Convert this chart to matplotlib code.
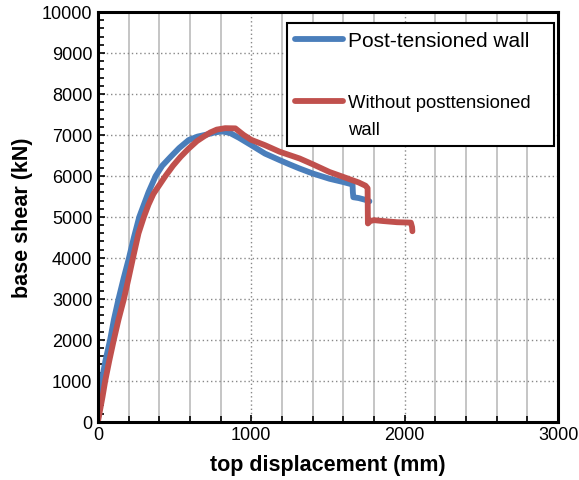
import matplotlib.pyplot as plt
from matplotlib.ticker import MultipleLocator

plt.rcParams['font.family'] = ['Liberation Sans', 'DejaVu Sans']

# -------------------------------
# data (mm, kN)
# -------------------------------
pt_disp = [0, 8, 25, 50, 80, 105, 135, 168, 203, 235, 270, 300, 330, 377, 420,
           474, 530, 592, 650, 710, 760, 810, 860, 920, 1000, 1089, 1185, 1250,
           1315, 1400, 1510, 1600, 1660, 1662, 1665, 1700, 1740, 1770]
pt_shear = [0, 500, 1000, 1500, 2000, 2500, 3000, 3500, 4000, 4500, 5000, 5300,
            5600, 6000, 6250, 6465, 6680, 6875, 6960, 7010, 7060, 7085, 7050,
            6930, 6750, 6545, 6385, 6280, 6180, 6060, 5930, 5850, 5790, 5600,
            5480, 5460, 5420, 5380]

npt_disp = [0, 8, 15, 30, 48, 75, 104, 135, 170, 200, 229, 265, 300, 330, 362,
            441, 490, 539, 590, 646, 690, 733, 775, 830, 896, 950, 1000, 1089,
            1185, 1315, 1400, 1510, 1600, 1700, 1745, 1758, 1760, 1775, 1800,
            1855, 1950, 2040, 2048, 2050]
npt_shear = [0, 150, 300, 600, 1000, 1500, 2000, 2500, 3000, 3500, 4000, 4600,
             5000, 5300, 5560, 6000, 6250, 6465, 6660, 6850, 6960, 7060, 7130,
             7165, 7160, 7000, 6880, 6750, 6590, 6425, 6285, 6095, 5975, 5840,
             5760, 5700, 4840, 4900, 4920, 4900, 4870, 4860, 4750, 4650]

labels = ["Post-tensioned wall", "Without posttensioned\nwall"]
colors = ["#4a7ebb", "#c0504d"]

# -------------------------------
# plot
# -------------------------------
fig = plt.figure(figsize=(5.79, 4.81), dpi=100)
ax = fig.add_axes([0.169, 0.121, 0.795, 0.852])

l1, = ax.plot(pt_disp, pt_shear, color=colors[0], lw=4.2, solid_capstyle='round',
              solid_joinstyle='round')
l2, = ax.plot(npt_disp, npt_shear, color=colors[1], lw=4.2, solid_capstyle='round',
              solid_joinstyle='round')

ax.set_xlim(0, 3000)
ax.set_ylim(0, 10000)
ax.xaxis.set_major_locator(MultipleLocator(1000))
ax.xaxis.set_minor_locator(MultipleLocator(200))
ax.yaxis.set_major_locator(MultipleLocator(1000))
ax.yaxis.set_minor_locator(MultipleLocator(200))

# grid: solid grey minor verticals, dotted majors
ax.grid(True, which='minor', axis='x', color='#bbbbbb', lw=1.2, ls='-')
ax.grid(True, which='major', axis='both', color='#888888', lw=1.0, ls=(0, (1, 2)))
ax.set_axisbelow(True)

ax.tick_params(which='both', direction='in', top=False, right=False,
               labelsize=13, width=1.2, labelcolor='black')
ax.tick_params(axis='x', pad=3)
ax.tick_params(axis='y', pad=4)
ax.tick_params(which='major', length=5)
ax.tick_params(which='minor', length=4)
for s in ax.spines.values():
    s.set_linewidth(2.2)

ax.set_xlabel("top displacement (mm)", fontsize=15.5, fontweight='bold', labelpad=8)
ax.set_ylabel("base shear (kN)", fontsize=15.5, fontweight='bold', labelpad=6)

leg = ax.legend([l1, l2], labels, loc='upper left', mode='expand',
                bbox_to_anchor=(0.411, 0.0, 0.58, 0.973),
                borderaxespad=0, fancybox=False, framealpha=1, edgecolor='black',
                handlelength=2.3, handletextpad=0.25, labelspacing=2.1,
                borderpad=0.4, fontsize=15)
leg.get_frame().set_linewidth(1.5)
leg.get_texts()[1].set_fontsize(13.3)
leg.get_texts()[1].set_linespacing(1.75)
# red handle sits on the first line of its label
h = leg.get_lines()[1]
h.set_ydata([y + 10.2 for y in h.get_ydata()])

fig.savefig("out.png", dpi=100)
